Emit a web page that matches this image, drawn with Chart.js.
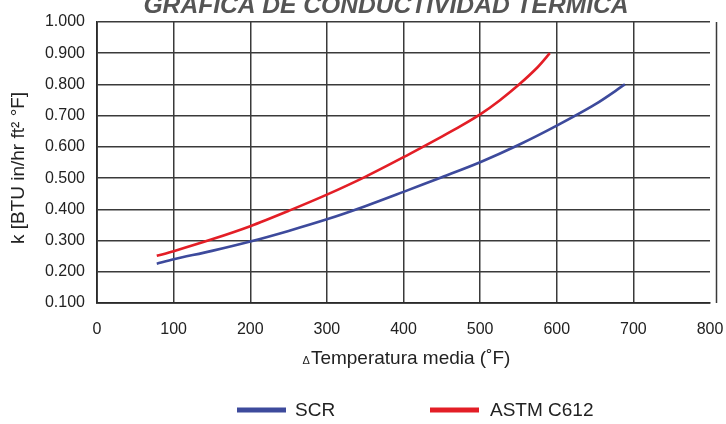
<!DOCTYPE html>
<html>
<head>
<meta charset="utf-8">
<script src="https://cdn.jsdelivr.net/npm/chart.js@4.4.1/dist/chart.umd.min.js"></script>
<style>
  html, body { margin: 0; padding: 0; background: #ffffff; }
  #wrap { width: 726px; height: 424px; position: relative; }
</style>
</head>
<body>
<div id="wrap"><canvas id="c" width="726" height="424"></canvas></div>
<script>
// ---- data ----
const chartTitle = 'GRAFICA DE CONDUCTIVIDAD TERMICA';
const xAxisTitle = 'Temperatura media (˚F)';
const yAxisTitle = 'k [BTU in/hr ft² °F]';
const seriesNames = ['SCR', 'ASTM C612'];
const seriesColors = ['#3d4a9c', '#e31e26'];
const xTickValues = [0, 100, 200, 300, 400, 500, 600, 700, 800];
const yTickValues = [0.1, 0.2, 0.3, 0.4, 0.5, 0.6, 0.7, 0.8, 0.9, 1.0];

const scrTemp = [78, 100, 150, 200, 250, 300, 350, 400, 450, 500, 550, 600, 650, 689];
const scrK    = [0.226, 0.240, 0.267, 0.297, 0.331, 0.368, 0.410, 0.456, 0.503, 0.551, 0.606, 0.668, 0.736, 0.800];
const astmTemp = [78, 100, 150, 200, 250, 300, 350, 400, 450, 475, 500, 525, 550, 575, 591];
const astmK    = [0.251, 0.266, 0.304, 0.346, 0.395, 0.447, 0.504, 0.567, 0.633, 0.667, 0.704, 0.748, 0.798, 0.855, 0.900];

const FAMILY = "'Liberation Sans', Arial, sans-serif";

function pts(xs, ys) { return xs.map((x, i) => ({ x: x, y: ys[i] })); }

const decorPlugin = {
  id: 'decor',
  afterDraw(chart) {
    const ctx = chart.ctx;
    const a = chart.chartArea;
    ctx.save();
    // right border line
    ctx.strokeStyle = '#3a3a3a';
    ctx.lineWidth = 1.5;
    ctx.beginPath();
    ctx.moveTo(a.right + 6.5, a.top);
    ctx.lineTo(a.right + 6.5, a.bottom);
    ctx.stroke();

    // title
    ctx.fillStyle = '#555555';
    ctx.font = "italic bold 24.6px " + FAMILY;
    ctx.textAlign = 'center';
    ctx.textBaseline = 'alphabetic';
    ctx.fillText(chartTitle, 386, 13);

    // x axis title with small delta
    ctx.fillStyle = '#222222';
    const big = "19px " + FAMILY;
    const small = "11px " + FAMILY;
    ctx.font = small;
    const wd = ctx.measureText('Δ').width;
    ctx.font = big;
    const wt = ctx.measureText(xAxisTitle).width;
    const cx = (a.left + a.right) / 2 + 3;
    const sx = cx - (wd + wt + 1) / 2;
    ctx.textAlign = 'left';
    ctx.font = small;
    ctx.fillText('Δ', sx, 364);
    ctx.font = big;
    ctx.fillText(xAxisTitle, sx + wd + 1, 364);

    // y axis title
    ctx.save();
    ctx.translate(24, 168);
    ctx.rotate(-Math.PI / 2);
    ctx.textAlign = 'center';
    ctx.font = "19px " + FAMILY;
    ctx.fillText(yAxisTitle, 0, 0);
    ctx.restore();

    // legend
    const items = [
      { x: 237, textX: 295 },
      { x: 430, textX: 490 }
    ];
    chart.data.datasets.forEach((ds, i) => {
      const it = items[i];
      ctx.strokeStyle = ds.borderColor;
      ctx.lineWidth = 5;
      ctx.beginPath();
      ctx.moveTo(it.x, 410);
      ctx.lineTo(it.x + 49, 410);
      ctx.stroke();
      ctx.fillStyle = '#222222';
      ctx.font = "19px " + FAMILY;
      ctx.textAlign = 'left';
      ctx.textBaseline = 'middle';
      ctx.fillText(ds.label, it.textX, 411);
    });
    ctx.restore();
  }
};

new Chart(document.getElementById('c'), {
  type: 'line',
  data: {
    datasets: [
      { label: seriesNames[0], data: pts(scrTemp, scrK), borderColor: seriesColors[0], borderWidth: 2.6,
        pointRadius: 0, tension: 0.3, fill: false },
      { label: seriesNames[1], data: pts(astmTemp, astmK), borderColor: seriesColors[1], borderWidth: 2.6,
        pointRadius: 0, tension: 0.3, fill: false }
    ]
  },
  options: {
    responsive: false,
    animation: false,
    devicePixelRatio: 1,
    layout: { padding: { top: 22, right: 16, left: 0, bottom: 0 } },
    plugins: { legend: { display: false }, title: { display: false }, tooltip: { enabled: false } },
    scales: {
      x: {
        type: 'linear', min: 0, max: 800,
        afterBuildTicks(s) { s.ticks = xTickValues.map(v => ({ value: v })); },
        afterFit(s) { s.height = 121; s.paddingLeft = 0; s.paddingRight = 0; },
        grid: {
          color: (c) => (c.tick && c.tick.value === 800) ? 'rgba(0,0,0,0)' : '#3a3a3a',
          lineWidth: 1.5, drawTicks: false
        },
        border: { display: true, color: '#2a2a2a', width: 1.8 },
        ticks: { padding: 17, color: '#222222', font: { family: FAMILY, size: 16 },
                 maxRotation: 0, autoSkip: false, callback: (v) => String(v) }
      },
      y: {
        type: 'linear', min: 0.1, max: 1.0,
        afterBuildTicks(s) { s.ticks = yTickValues.map(v => ({ value: v })); },
        afterFit(s) { s.width = 97; s.paddingTop = 0; s.paddingBottom = 0; },
        grid: { color: '#3a3a3a', lineWidth: 1.5, drawTicks: false },
        border: { display: true, color: '#2a2a2a', width: 1.8 },
        ticks: { padding: 12, color: '#222222', font: { family: FAMILY, size: 16 },
                 autoSkip: false, callback: (v) => Number(v).toFixed(3) }
      }
    }
  },
  plugins: [decorPlugin]
});
</script>
</body>
</html>
